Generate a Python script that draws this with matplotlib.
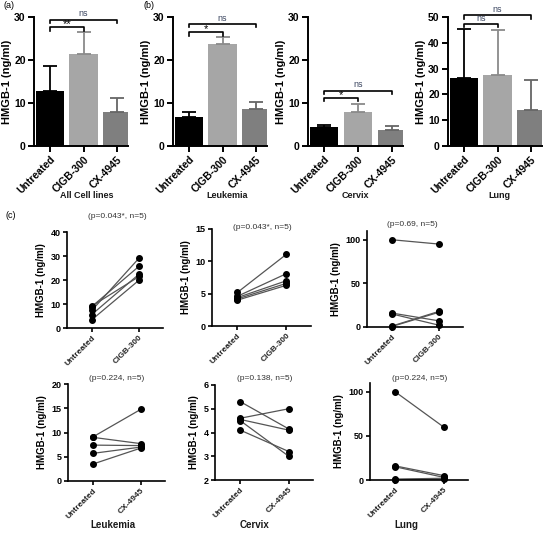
import matplotlib
matplotlib.use("Agg")
import matplotlib.pyplot as plt

plt.rcParams['font.family'] = ['Liberation Sans', 'DejaVu Sans']

# ---------------- data ----------------
treatments = ["Untreated", "CIGB-300", "CX-4945"]
bar_groups = ["All Cell lines", "Leukemia", "Cervix", "Lung"]
mean_all = [12.8, 21.3, 8.0]
err_all = [5.7, 5.1, 3.2]
mean_leuk = [6.8, 23.7, 8.7]
err_leuk = [1.2, 1.7, 1.6]
mean_cerv = [4.5, 7.8, 3.7]
err_cerv = [0.5, 2.0, 0.9]
mean_lung = [26.3, 27.7, 13.9]
err_lung = [18.9, 17.2, 11.6]
bar_ylims = [30, 30, 30, 50]
bar_yticks = [[0, 10, 20, 30], [0, 10, 20, 30], [0, 10, 20, 30], [0, 10, 20, 30, 40, 50]]
# significance: (label of pair 0-1, y), (label of pair 0-2, y)
sig_pair1 = [("**", 27.6), ("*", 26.4), ("*", 11.2), ("ns", 47.2)]
sig_pair2 = [("ns", 29.4), ("ns", 28.4), ("ns", 12.9), ("ns", 50.6)]

# paired data (c)
leuk_cigb_u = [9.1, 8.9, 7.3, 5.6, 3.4]
leuk_cigb_t = [21.5, 25.8, 29.2, 22.5, 20.0]
cerv_cigb_u = [5.2, 4.6, 4.4, 4.2, 4.0]
cerv_cigb_t = [11.1, 8.1, 7.0, 6.6, 6.3]
lung_cigb_u = [100, 16, 15, 1, 0.5]
lung_cigb_t = [95, 7, 2, 18, 17]
leuk_cx_u = [9.1, 9.0, 7.4, 5.7, 3.5]
leuk_cx_t = [14.8, 7.7, 7.3, 7.0, 6.8]
cerv_cx_u = [5.3, 4.6, 4.55, 4.5, 4.1]
cerv_cx_t = [4.15, 5.0, 4.1, 3.0, 3.2]
lung_cx_u = [100, 16, 15, 1, 0.5]
lung_cx_t = [60, 5, 3, 2, 1]
pair_titles = ["(p=0.043*, n=5)", "(p=0.043*, n=5)", "(p=0.69, n=5)",
               "(p=0.224, n=5)", "(p=0.138, n=5)", "(p=0.224, n=5)"]
pair_ylims = [(0, 40), (0, 15), (0, 110), (0, 20), (2, 6), (0, 110)]
pair_yticks = [[0, 10, 20, 30, 40], [0, 5, 10, 15], [0, 50, 100],
               [0, 5, 10, 15, 20], [2, 3, 4, 5, 6], [0, 50, 100]]
pair_groups = ["Leukemia", "Cervix", "Lung"]

# ---------------- figure ----------------
W, H = 550, 534
fig = plt.figure(figsize=(W / 100, H / 100), dpi=100)


def ax_px(l, r, t, b):
    return fig.add_axes([l / W, 1 - b / H, (r - l) / W, (b - t) / H])


bar_colors = ["#000000", "#a6a6a6", "#7f7f7f"]
err_colors = ["#000000", "#8a8a8a", "#666666"]
bar_boxes = [(34, 128), (173, 267), (308, 403), (448, 542)]
bar_means = [mean_all, mean_leuk, mean_cerv, mean_lung]
bar_errs = [err_all, err_leuk, err_cerv, err_lung]
bar_label_x = [87, 227, 355, 499]

for i in range(4):
    l, r = bar_boxes[i]
    ax = ax_px(l, r, 17, 146)
    xs = range(len(treatments))
    ax.bar(xs, bar_means[i], width=0.84, color=bar_colors, zorder=2)
    for j in xs:
        ax.errorbar(j, bar_means[i][j], yerr=[[0], [bar_errs[i][j]]], fmt='none',
                    ecolor=err_colors[j], elinewidth=1.3, capsize=5, capthick=1.3, zorder=3)
    ax.set_xlim(-0.48, 2.33)
    ax.set_ylim(0, bar_ylims[i])
    ax.set_yticks(bar_yticks[i])
    ax.set_xticks(list(xs))
    ax.set_xticklabels(treatments, rotation=45, ha='right', rotation_mode='anchor',
                       fontsize=7.5, fontweight='bold')
    for lab in ax.get_yticklabels():
        lab.set_fontweight('bold')
        lab.set_fontsize(7.5)
    ax.set_ylabel("HMGB-1 (ng/ml)", fontsize=8, fontweight='bold', labelpad=1.5)
    for s in ['top', 'right']:
        ax.spines[s].set_visible(False)
    for s in ['left', 'bottom']:
        ax.spines[s].set_linewidth(1.4)
    ax.tick_params(width=1.4, length=4, pad=2)
    # significance brackets
    h = bar_ylims[i] * 0.025
    for (lab, y), x2 in ((sig_pair1[i], 1), (sig_pair2[i], 2)):
        ax.plot([0, 0, x2, x2], [y - h, y, y, y - h], color='black', lw=1.2,
                clip_on=False, zorder=4)
        if lab == 'ns':
            ax.text(x2 / 2, y + h * 0.4, lab, ha='center', va='bottom', fontsize=6.5,
                    color='#3b4660', clip_on=False)
        else:
            ax.text(x2 / 2, y - h * 0.6, lab, ha='center', va='bottom', fontsize=8,
                    color='black', clip_on=False)
    fig.text(bar_label_x[i] / W, 1 - 195 / H, bar_groups[i], ha='center', va='center',
             fontsize=6.5, fontweight='bold', color='#1a1a1a')

fig.text(3 / W, 1 - 6 / H, "(a)", fontsize=6.5, va='center')
fig.text(143 / W, 1 - 6 / H, "(b)", fontsize=6.5, va='center')
fig.text(5 / W, 1 - 215 / H, "(c)", fontsize=6.5, va='center')

pair_boxes = [(67, 163, 232, 328), (212, 311, 229, 326), (367, 463, 231, 327),
              (68, 165, 384, 481), (215, 313, 385, 480), (370, 468, 383, 480)]
pair_u = [leuk_cigb_u, cerv_cigb_u, lung_cigb_u, leuk_cx_u, cerv_cx_u, lung_cx_u]
pair_t = [leuk_cigb_t, cerv_cigb_t, lung_cigb_t, leuk_cx_t, cerv_cx_t, lung_cx_t]
pair_xlabels = [["Untreated", "CIGB-300"]] * 3 + [["Untreated", "CX-4945"]] * 3
title_pos = [(117, 216), (262, 228), (412, 225), (117, 379), (265, 379), (420, 379)]
group_pos = [113, 254, 406]

for k in range(6):
    l, r, t, b = pair_boxes[k]
    ax = ax_px(l, r, t, b)
    for u, v in zip(pair_u[k], pair_t[k]):
        ax.plot([0, 1], [u, v], color='#555555', lw=0.9, zorder=2)
    ax.plot([0] * 5, pair_u[k], 'o', color='black', ms=4, zorder=3, clip_on=False)
    ax.plot([1] * 5, pair_t[k], 'o', color='black', ms=4, zorder=3, clip_on=False)
    ax.set_xlim(-0.52, 1.5)
    ax.set_ylim(*pair_ylims[k])
    ax.set_yticks(pair_yticks[k])
    ax.set_xticks([0, 1])
    ax.set_xticklabels(pair_xlabels[k], rotation=45, ha='right', rotation_mode='anchor',
                       fontsize=6, fontweight='bold', color='#222222')
    for lab in ax.get_yticklabels():
        lab.set_fontweight('bold')
        lab.set_fontsize(6.5)
    ax.set_ylabel("HMGB-1 (ng/ml)", fontsize=7, fontweight='bold', labelpad=3)
    for s in ['top', 'right']:
        ax.spines[s].set_visible(False)
    for s in ['left', 'bottom']:
        ax.spines[s].set_linewidth(1.2)
    ax.tick_params(width=1.2, length=3, pad=1.5)
    tx, ty = title_pos[k]
    fig.text(tx / W, 1 - ty / H, pair_titles[k], ha='center', va='center',
             fontsize=6, color='#333333')

for g in range(3):
    fig.text(group_pos[g] / W, 1 - 525 / H, pair_groups[g], ha='center', va='center',
             fontsize=7, fontweight='bold', color='#1a1a1a')

fig.savefig("out.png", dpi=100, facecolor='white')
